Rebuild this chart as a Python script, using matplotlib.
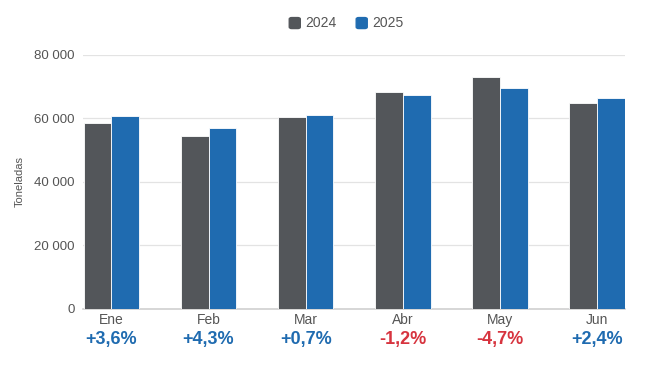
import matplotlib.pyplot as plt
import matplotlib.transforms as mtransforms
from matplotlib.patches import FancyBboxPatch
import numpy as np

plt.rcParams['font.family'] = ['Liberation Sans', 'DejaVu Sans']

months = ["Ene", "Feb", "Mar", "Abr", "May", "Jun"]
vals_2024 = [58600, 54500, 60500, 68300, 73100, 64900]
vals_2025 = [60700, 56900, 61000, 67500, 69600, 66400]
changes = ["+3,6%", "+4,3%", "+0,7%", "-1,2%", "-4,7%", "+2,4%"]
yticks = [0, 20000, 40000, 60000, 80000]

C_2024 = "#53565a"
C_2025 = "#1f6bb0"
C_NEG = "#d7343f"
TXT = "#555555"

fig = plt.figure(figsize=(6.5, 3.66), dpi=100)
ax = fig.add_axes([0.128, 0.156, 0.834, 0.694])

x = np.arange(len(months))
w = 0.285
ax.bar(x - w / 2, vals_2024, w, color=C_2024, edgecolor="white", linewidth=0.6, zorder=3, label="2024")
ax.bar(x + w / 2, vals_2025, w, color=C_2025, edgecolor="white", linewidth=0.6, zorder=3, label="2025")

ax.set_xlim(-w - 0.005, len(months) - 1 + w + 0.005)
ax.set_ylim(0, 80000)
ax.set_yticks(yticks)
ax.set_yticklabels([f"{v:,}".replace(",", " ") for v in yticks], color=TXT, fontsize=9.5)
ax.set_xticks(x)
ax.set_xticklabels(months, color=TXT, fontsize=10)
ax.tick_params(axis="both", length=0)
ax.tick_params(axis="y", pad=6)
ax.tick_params(axis="x", pad=3)
ax.grid(axis="y", color="#e3e3e3", linewidth=0.9, zorder=0)
for s in ["top", "right", "left"]:
    ax.spines[s].set_visible(False)
ax.spines["bottom"].set_color("#d0d0d0")
ax.spines["bottom"].set_linewidth(1.2)

ax.set_ylabel("Toneladas", color=TXT, fontsize=8, labelpad=7)

trans = mtransforms.blended_transform_factory(ax.transData, ax.transAxes)
for xi, lab in zip(x, changes):
    col = C_NEG if lab.startswith("-") else C_2025
    ax.text(xi, -0.12, lab, transform=trans, ha="center", va="center",
            fontsize=13, fontweight="bold", color=col)

# legend drawn as rounded squares + text at top center
for fx, lab, col in [(0.445, "2024", C_2024), (0.548, "2025", C_2025)]:
    fig.patches.append(FancyBboxPatch((fx, 0.922), 0.017, 0.03,
                                      boxstyle="round,pad=0,rounding_size=0.004",
                                      transform=fig.transFigure, color=col))
    fig.text(fx + 0.024, 0.937, lab, color=TXT, fontsize=10, va="center", ha="left")

fig.savefig("out.png", dpi=100)
